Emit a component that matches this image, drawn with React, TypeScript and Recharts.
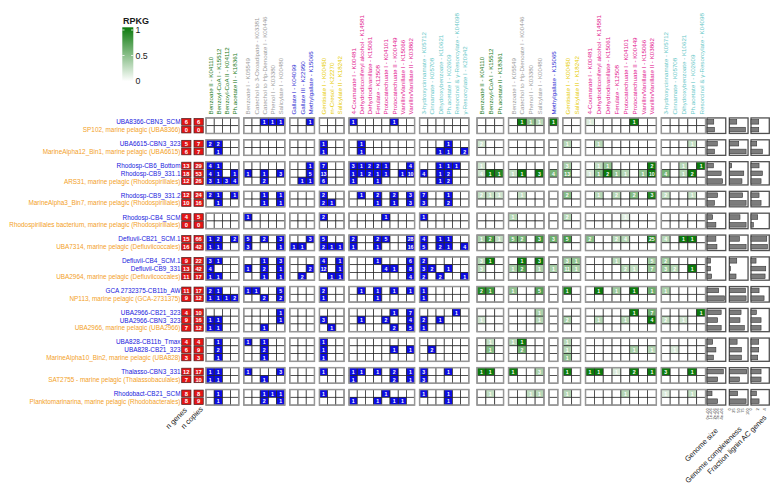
import type { JSX } from 'react';
import { Legend, Scatter, ScatterChart, XAxis, YAxis } from 'recharts';

// ---------- data ----------
// each group: MAG(s) first, reference genome last
const GENOME_GROUPS: string[][] = [
  ['UBA8366-CBN3_SCM', 'SP102, marine pelagic (UBA8366)'],
  ['UBA6615-CBN3_323', 'MarineAlpha12_Bin1, marine pelagic (UBA6615)'],
  ['Rhodosp-CB6_Bottom', 'Rhodosp-CB9_331.1', 'ARS31, marine pelagic (Rhodospirillales)'],
  ['Rhodosp-CB9_331.2', 'MarineAlpha3_Bin7, marine pelagic (Rhodospirillales)'],
  ['Rhodosp-CB4_SCM', 'Rhodospirillales bacterium, marine pelagic (Rhodospirillales)'],
  ['Defluvii-CB21_SCM.1', 'UBA7314, marine pelagic (Defluviicoccales)'],
  ['Defluvii-CB4_SCM.1', 'Defluvii-CB9_331', 'UBA2964, marine pelagic (Defluviicoccales)'],
  ['GCA 2732375-CB11b_AW', 'NP113, marine pelagic (GCA-2731375)'],
  ['UBA2966-CB21_323', 'UBA2966-CBN3_323', 'UBA2966, marine pelagic (UBA2966)'],
  ['UBA828-CB11b_Tmax', 'UBA828-CB21_323', 'MarineAlpha10_Bin2, marine pelagic (UBA828)'],
  ['Thalasso-CBN3_331', 'SAT2755 - marine pelagic (Thalassobaculales)'],
  ['Rhodobact-CB21_SCM', 'Planktomarinarina, marine pelagic (Rhodobacterales)'],
];

const N_GENES = [6, 0, 5, 6, 13, 18, 12, 12, 10, 4, 0, 15, 16, 9, 13, 11, 11, 9, 4, 9, 7, 4, 6, 3, 12, 7, 8, 8];
const N_COPIES = [6, 0, 7, 7, 29, 53, 26, 24, 16, 5, 0, 66, 42, 22, 42, 17, 17, 12, 10, 16, 12, 4, 9, 3, 17, 10, 8, 9];

const COUNT_BLOCK_LABELS: string[][] = [
  ['Benzoate II - K04110', 'Benzoyl-CoA I - K15512', 'Benzoyl-CoA II - K04112', 'Ph.acetate II - K18361'],
  ['Benzoate I - K05549', 'Catechol to 3-Oxoadipate - K03381', 'Catechol to Hp-Dienoate I - K00446', 'Phenol I - K03380', 'Salicylate I - K00480'],
  ['Gallate I - K04099', 'Gallate III - K22950', 'Methylgallate - K15065'],
  ['Gentisate I - K00450', 'm-Cresol - K22270', 'Salicylate II - K18242'],
  ['4-Coumarate I - K00481', 'Dehydrodiconiferyl alcohol - K14581', 'Dehydrodivanillate - K15061', 'Ferulate - K12508',
    'Protocatechuate I - K04101', 'Protocatechuate II - K00449', 'Vanillin/Vanillate I - K15066', 'Vanillin/Vanillate II - K03862'],
  ['3-hydroxycinnamate - K05712', 'Cinnamate - K05708', 'Dihydroxybenzoate - K10621', 'Ph.acetate I - K02609',
    'Resorcinol & γ-Resorcylate - K04098', 'γ-Resorcylate I - K20942'],
];

const RPKG_BLOCK_LABELS: string[][] = [
  ['Benzoate II - K04110', 'Benzoyl-CoA I - K15512', 'Ph.acetate II - K18361'],
  ['Benzoate I - K05549', 'Catechol to Hp-Dienoate I - K00446', 'Phenol I - K03380', 'Salicylate I - K00480'],
  ['Methylgallate - K15065'],
  ['Gentisate I - K00450', 'Salicylate II - K18242'],
  ['4-Coumarate I - K00481', 'Dehydrodiconiferyl alcohol - K14581', 'Dehydrodivanillate - K15061', 'Ferulate - K12508',
    'Protocatechuate I - K04101', 'Protocatechuate II - K00449', 'Vanillin/Vanillate I - K15066', 'Vanillin/Vanillate II - K03862'],
  ['3-hydroxycinnamate - K05712', 'Cinnamate - K05708', 'Dihydroxybenzoate - K10621', 'Ph.acetate I - K02609',
    'Resorcinol & γ-Resorcylate - K04098'],
];

// gene copies per genome; columns follow COUNT_BLOCK_LABELS (4 | 5 | 3 | 3 | 8 | 6)
const GENE_COUNTS: number[][] = [
  [0, 0, 0, 0, 0, 0, 1, 1, 1, 0, 0, 1, 0, 0, 0, 1, 0, 0, 0, 0, 1, 0, 0, 0, 0, 0, 0, 0, 0],
  [0, 0, 0, 0, 0, 0, 0, 0, 0, 0, 0, 0, 0, 0, 0, 0, 0, 0, 0, 0, 0, 0, 0, 0, 0, 0, 0, 0, 0],
  [2, 2, 0, 0, 0, 0, 0, 0, 0, 0, 0, 0, 1, 0, 0, 0, 1, 0, 0, 0, 0, 0, 0, 0, 0, 0, 1, 0, 0],
  [0, 1, 0, 0, 0, 0, 0, 0, 0, 0, 0, 0, 1, 0, 0, 0, 1, 0, 0, 0, 0, 0, 0, 0, 0, 1, 1, 0, 2],
  [4, 1, 0, 0, 0, 0, 0, 0, 0, 0, 0, 1, 7, 0, 0, 3, 1, 2, 2, 1, 0, 0, 4, 0, 0, 1, 1, 1, 0],
  [4, 1, 0, 1, 1, 0, 1, 0, 3, 0, 0, 5, 13, 0, 0, 1, 1, 2, 1, 1, 0, 1, 10, 4, 0, 1, 2, 0, 0],
  [3, 1, 3, 4, 0, 0, 2, 0, 0, 0, 1, 1, 6, 0, 0, 1, 0, 0, 1, 0, 0, 0, 0, 0, 0, 1, 2, 0, 0],
  [2, 1, 0, 1, 0, 0, 1, 0, 1, 0, 0, 0, 2, 0, 0, 0, 1, 0, 2, 0, 2, 0, 3, 7, 0, 0, 1, 0, 0],
  [0, 1, 0, 0, 0, 0, 1, 0, 1, 0, 0, 0, 2, 1, 0, 0, 0, 0, 1, 0, 1, 0, 3, 3, 0, 0, 2, 0, 0],
  [0, 0, 0, 0, 1, 0, 0, 0, 0, 0, 0, 0, 2, 0, 0, 0, 0, 0, 0, 1, 0, 0, 0, 1, 0, 0, 0, 0, 0],
  [0, 0, 0, 0, 0, 0, 0, 0, 0, 0, 0, 0, 0, 0, 0, 0, 0, 0, 0, 0, 0, 0, 0, 0, 0, 0, 0, 0, 0],
  [1, 2, 0, 2, 5, 0, 2, 0, 3, 0, 0, 3, 5, 0, 0, 2, 0, 0, 2, 5, 0, 0, 28, 4, 0, 1, 1, 0, 0],
  [1, 1, 0, 0, 3, 0, 0, 0, 1, 1, 1, 0, 2, 1, 1, 1, 0, 0, 1, 0, 0, 0, 16, 5, 0, 2, 1, 0, 4],
  [3, 1, 0, 0, 0, 0, 1, 0, 3, 0, 0, 0, 4, 0, 1, 0, 0, 0, 1, 0, 0, 0, 6, 2, 0, 0, 0, 0, 0],
  [4, 0, 0, 0, 1, 0, 2, 0, 1, 0, 0, 2, 12, 0, 1, 0, 0, 0, 0, 4, 1, 0, 8, 3, 2, 0, 1, 0, 0],
  [1, 1, 0, 0, 0, 0, 1, 0, 1, 0, 2, 0, 0, 1, 1, 0, 0, 0, 0, 0, 0, 0, 4, 2, 0, 2, 0, 0, 1],
  [2, 1, 0, 0, 1, 1, 0, 0, 5, 0, 0, 0, 2, 0, 0, 0, 1, 0, 1, 0, 1, 0, 1, 1, 0, 0, 0, 0, 0],
  [1, 1, 1, 2, 0, 0, 2, 0, 2, 0, 0, 0, 1, 0, 0, 0, 0, 0, 1, 0, 0, 0, 0, 1, 0, 0, 0, 0, 0],
  [0, 0, 0, 0, 0, 0, 0, 0, 1, 0, 0, 0, 0, 0, 0, 0, 0, 0, 0, 0, 1, 0, 7, 0, 0, 0, 0, 1, 0],
  [1, 1, 0, 0, 0, 0, 0, 0, 1, 0, 0, 0, 3, 0, 0, 0, 1, 0, 0, 2, 0, 0, 4, 2, 0, 1, 0, 0, 0],
  [1, 1, 0, 0, 0, 0, 1, 0, 0, 0, 0, 0, 0, 1, 0, 0, 0, 0, 0, 0, 2, 0, 5, 1, 0, 0, 0, 0, 0],
  [0, 1, 0, 0, 1, 0, 1, 0, 0, 0, 0, 0, 1, 0, 0, 0, 0, 0, 0, 0, 0, 0, 0, 0, 0, 0, 0, 0, 0],
  [0, 2, 0, 0, 0, 0, 2, 0, 0, 0, 0, 0, 1, 0, 0, 0, 0, 0, 0, 0, 1, 0, 1, 0, 2, 0, 0, 0, 0],
  [0, 1, 0, 0, 0, 0, 1, 0, 0, 0, 0, 0, 1, 0, 0, 0, 0, 0, 0, 0, 0, 0, 0, 0, 0, 0, 0, 0, 0],
  [1, 1, 0, 0, 1, 0, 0, 0, 3, 0, 0, 0, 1, 0, 0, 1, 1, 0, 1, 0, 2, 0, 1, 3, 0, 0, 1, 0, 0],
  [1, 1, 0, 0, 0, 0, 1, 0, 0, 0, 0, 0, 0, 0, 0, 1, 0, 0, 0, 0, 2, 0, 1, 3, 0, 0, 0, 0, 0],
  [0, 1, 0, 0, 0, 0, 1, 1, 1, 0, 0, 0, 1, 0, 0, 0, 0, 0, 0, 1, 0, 0, 0, 1, 0, 0, 1, 0, 0],
  [0, 1, 0, 0, 0, 0, 2, 0, 1, 0, 0, 0, 0, 0, 0, 1, 0, 0, 1, 0, 1, 1, 0, 0, 0, 0, 1, 0, 0],
];

// [row, column in RPKG_BLOCK_LABELS order, copies, RPKG]
const RPKG_CELLS: [number, number, number, number][] = [
  [0, 4, 1, 1.0], [0, 5, 1, 0.45], [0, 6, 1, 0.3], [0, 7, 1, 1.0], [0, 10, 1, 0.15], [0, 15, 1, 1.0],
  [2, 0, 2, 0.2], [2, 8, 1, 0.3], [2, 11, 1, 0.3], [2, 21, 1, 0.25],
  [4, 0, 1, 0.2], [4, 8, 3, 0.35], [4, 11, 1, 0.25], [4, 12, 1, 0.45], [4, 17, 2, 1.0], [4, 20, 1, 0.3], [4, 22, 1, 1.0],
  [5, 0, 4, 0.2], [5, 1, 1, 1.0], [5, 2, 1, 0.9], [5, 3, 1, 0.25], [5, 4, 1, 1.0], [5, 6, 3, 1.0], [5, 7, 4, 0.55],
  [5, 8, 13, 0.6], [5, 10, 1, 0.15], [5, 11, 1, 0.5], [5, 12, 2, 1.0], [5, 13, 1, 0.45], [5, 14, 1, 0.3], [5, 16, 1, 0.45],
  [5, 17, 10, 1.0], [5, 18, 4, 0.55], [5, 20, 1, 0.3], [5, 21, 2, 1.0],
  [7, 0, 2, 0.25], [7, 1, 1, 0.25], [7, 2, 1, 0.2], [7, 4, 1, 0.25], [7, 8, 2, 0.5], [7, 11, 1, 0.3], [7, 13, 2, 0.3],
  [7, 15, 2, 0.5], [7, 17, 3, 0.9], [7, 18, 2, 0.25], [7, 21, 1, 0.25],
  [9, 3, 1, 0.3], [9, 8, 2, 0.3], [9, 14, 1, 0.12],
  [11, 0, 1, 0.35], [11, 1, 2, 0.75], [11, 2, 1, 0.25], [11, 3, 5, 0.55], [11, 4, 2, 0.55], [11, 6, 3, 0.8], [11, 7, 3, 0.6],
  [11, 8, 5, 0.75], [11, 10, 2, 0.5], [11, 13, 2, 0.3], [11, 14, 4, 0.3], [11, 17, 25, 0.9], [11, 18, 4, 0.3],
  [11, 20, 1, 1.0], [11, 21, 1, 1.0],
  [13, 0, 3, 0.3], [13, 1, 1, 1.0], [13, 4, 1, 1.0], [13, 6, 3, 1.0], [13, 8, 3, 0.4], [13, 9, 1, 0.45], [13, 13, 1, 0.3],
  [13, 17, 5, 0.4], [13, 18, 2, 0.4],
  [14, 0, 3, 0.3], [14, 3, 1, 0.35], [14, 4, 2, 0.7], [14, 6, 1, 0.35], [14, 7, 1, 0.35], [14, 8, 11, 0.45], [14, 9, 1, 0.35],
  [14, 14, 2, 0.3], [14, 15, 1, 0.25], [14, 17, 7, 0.45], [14, 18, 3, 0.4], [14, 19, 2, 0.3], [14, 21, 1, 1.0],
  [16, 0, 2, 0.9], [16, 1, 1, 0.8], [16, 3, 1, 0.45], [16, 6, 5, 0.7], [16, 8, 1, 0.95], [16, 11, 1, 1.0], [16, 13, 1, 0.4],
  [16, 15, 1, 1.0], [16, 17, 1, 0.6], [16, 18, 1, 0.35],
  [18, 6, 1, 0.35], [18, 15, 1, 1.0], [18, 17, 7, 0.6], [18, 22, 1, 1.0],
  [19, 0, 1, 0.2], [19, 6, 1, 0.3], [19, 8, 2, 0.35], [19, 11, 1, 0.3], [19, 14, 1, 0.3], [19, 17, 4, 1.0], [19, 18, 2, 0.25],
  [19, 20, 1, 0.2],
  [21, 1, 1, 0.25], [21, 3, 1, 0.3], [21, 4, 1, 1.0], [21, 8, 1, 0.3],
  [22, 1, 1, 0.5], [22, 4, 2, 0.55], [22, 8, 1, 0.3], [22, 15, 1, 0.35], [22, 17, 1, 0.3], [22, 19, 1, 0.15],
  [23, 8, 1, 0.45],
  [24, 0, 1, 1.0], [24, 1, 1, 1.0], [24, 3, 1, 1.0], [24, 6, 3, 0.35], [24, 8, 1, 1.0], [24, 10, 1, 1.0], [24, 11, 1, 1.0],
  [24, 13, 1, 0.15], [24, 15, 2, 1.0], [24, 17, 1, 1.0], [24, 18, 3, 1.0], [24, 21, 1, 1.0],
  [26, 1, 1, 0.25], [26, 5, 1, 0.25], [26, 6, 1, 0.3], [26, 8, 1, 0.3], [26, 14, 1, 0.3], [26, 18, 1, 0.15], [26, 21, 1, 0.25],
];

const GENOME_SIZE_MB = [1.9, 2.1, 2.9, 2.1, 1.8, 4.0, 4.4, 3.0, 2.1, 1.6, 2.5, 2.5, 2.8, 1.0, 1.0, 1.3, 3.3, 4.9, 4.0, 3.0, 4.0, 1.6, 2.5, 1.8, 4.6, 3.0, 1.4, 3.0];
const COMPLETENESS = [41, 89, 52, 93, 13, 80, 70, 74, 93, 59, 93, 56, 93, 41, 6, 37, 89, 93, 65, 59, 83, 43, 67, 67, 96, 56, 46, 93];
const FRACTION_AC = [2.3, 2.3, 1.7, 3.4, 2.4, 3.4, 3.0, 2.4, 3.0, 2.0, 0.7, 4.7, 4.9, 1.5, 4.4, 4.2, 2.4, 3.9, 1.6, 3.0, 3.0, 2.3, 2.3, 2.0, 3.0, 3.0, 1.6, 2.4];

const SIZE_TICKS = [0, 1, 2, 3, 4];
const COMPLETENESS_TICKS = [0, 25, 50, 75, 100];
const FRACTION_TICKS = [0, 2, 4];

// ---------- styles / layout ----------
const FONT = '"Liberation Sans", Arial, Helvetica, sans-serif';
const CLASS_COLORS = ['#217a21', '#9c9c9c', '#2e2ed2', '#e6cb00', '#e2168e', '#68c8c8'];
const MAG_COLOR = '#2020dc';
const REF_COLOR = '#f3a11f';
const BLUE = '#0c0ce2';
const RED = '#e41616';
const GREEN_HIGH = [12, 122, 12];

const CHART_W = 770;
const CHART_H = 480;
const Y_AXIS_W = 173;
const MARGIN_R = 6;
const TOP_AXIS_H = 108;
const BOTTOM_AXIS_H = 81;

const X_MAX = 72.07;
const GROUP_GAP = 0.82;
const Y_PAD = 0.75;
const BLOCK_GAP = 0.61;
const N_GENES_X = 0.65;
const N_COPIES_X = 2.15;
const RED_W = 1.13;

type Column = { x: number; label: string; color: string; w: number };
type Span = { x0: number; x1: number };

function layoutSection(blocks: string[][], start: number, cell: number): { columns: Column[]; spans: Span[] } {
  const columns: Column[] = [];
  const spans: Span[] = [];
  let x = start;
  blocks.forEach((labels, b) => {
    const x0 = x;
    labels.forEach((label, i) => {
      columns.push({ x: x + cell * (i + 0.5), label, color: CLASS_COLORS[b], w: cell });
    });
    x += labels.length * cell;
    spans.push({ x0, x1: x });
    x += BLOCK_GAP;
  });
  return { columns, spans };
}

const SECTION1 = layoutSection(COUNT_BLOCK_LABELS, 3.05, 1);
const SECTION2 = layoutSection(RPKG_BLOCK_LABELS, 36.1, 1.079);

type Row = { name: string; isRef: boolean; y: number; group: number };
const ROWS: Row[] = [];
GENOME_GROUPS.forEach((names, g) => {
  names.forEach((name, k) => {
    ROWS.push({ name, isRef: k === names.length - 1, y: ROWS.length + g * GROUP_GAP, group: g });
  });
});
const Y_MIN = -Y_PAD;
const Y_MAX = ROWS[ROWS.length - 1].y + Y_PAD;

const PX_X = (CHART_W - Y_AXIS_W - MARGIN_R) / X_MAX;
const PX_Y = (CHART_H - TOP_AXIS_H - BOTTOM_AXIS_H) / (Y_MAX - Y_MIN);

const GROUP_SPANS = GENOME_GROUPS.map((_, g) => {
  const ys = ROWS.filter((r) => r.group === g).map((r) => r.y);
  return { y0: Math.min(...ys) - 0.5, y1: Math.max(...ys) + 0.5 };
});

type Panel = { start: number; width: number; max: number; values: number[]; ticks: number[]; fmt: (v: number) => string };
const PANELS: Panel[] = [
  { start: 64.15, width: 2.28, max: 5.3, values: GENOME_SIZE_MB, ticks: SIZE_TICKS, fmt: (v) => (v === 0 ? '0e+00' : `${v}e+06`) },
  { start: 66.87, width: 2.28, max: 103.9, values: COMPLETENESS, ticks: COMPLETENESS_TICKS, fmt: (v) => String(v) },
  { start: 69.51, width: 2.23, max: 5.46, values: FRACTION_AC, ticks: FRACTION_TICKS, fmt: (v) => String(v) },
];

function greenShade(t: number): string {
  const c = GREEN_HIGH.map((h) => Math.round(255 + (h - 255) * Math.min(1, Math.max(0, t))));
  return `rgb(${c[0]},${c[1]},${c[2]})`;
}

// ---------- series data ----------
const countCells = ROWS.flatMap((row, r) =>
  SECTION1.columns.map((col, c) => {
    const v = GENE_COUNTS[r][c];
    return { x: col.x, y: row.y, w: col.w, fill: v > 0 ? BLUE : '#ffffff', label: v > 0 ? String(v) : '' };
  }),
);

const rpkgLookup = new Map(RPKG_CELLS.map(([r, c, n, v]) => [`${r}-${c}`, { n, v }]));
const rpkgCells = ROWS.flatMap((row, r) =>
  SECTION2.columns.map((col, c) => {
    const hit = rpkgLookup.get(`${r}-${c}`);
    return { x: col.x, y: row.y, w: col.w, fill: hit ? greenShade(hit.v) : '#ffffff', label: hit ? String(hit.n) : '' };
  }),
);

const redCells = ROWS.flatMap((row, r) => [
  { x: N_GENES_X, y: row.y, label: String(N_GENES[r]) },
  { x: N_COPIES_X, y: row.y, label: String(N_COPIES[r]) },
]);

const blockFrames = GROUP_SPANS.flatMap((g) =>
  [...SECTION1.spans, ...SECTION2.spans].map((s) => ({
    x: (s.x0 + s.x1) / 2, y: (g.y0 + g.y1) / 2, w: s.x1 - s.x0, h: g.y1 - g.y0,
  })),
);

const panelFrames = GROUP_SPANS.flatMap((g) =>
  PANELS.map((p) => ({ x: p.start + p.width / 2, y: (g.y0 + g.y1) / 2, w: p.width, h: g.y1 - g.y0 })),
);

const bars = PANELS.flatMap((p) =>
  ROWS.map((row, r) => {
    const len = (p.values[r] / p.max) * p.width;
    return { x: p.start + len, y: row.y, len };
  }),
);

// ---------- axis labels ----------
const keyOf = (v: number) => v.toFixed(3);
const HEADER_COLUMNS = [...SECTION1.columns, ...SECTION2.columns];
const HEADER_BY_X = new Map(HEADER_COLUMNS.map((c) => [keyOf(c.x), c]));
const ROW_BY_Y = new Map(ROWS.map((r) => [keyOf(r.y), r]));

type BottomLabel = { x: number; text: string; kind: 'tiny' | 'title'; dy: number };
const BOTTOM_LABELS: BottomLabel[] = [
  { x: 0.79, text: 'n genes', kind: 'title', dy: 3.7 },
  { x: 2.74, text: 'n copies', kind: 'title', dy: 2.7 },
  ...PANELS.flatMap((p) =>
    p.ticks.map((t) => ({ x: p.start + (t / p.max) * p.width, text: p.fmt(t), kind: 'tiny' as const, dy: 1.2 })),
  ),
  { x: 65.55, text: 'Genome size', kind: 'title', dy: 24.2 },
  { x: 68.42, text: 'Genome completeness', kind: 'title', dy: 22.7 },
  { x: 71.46, text: 'Fraction lignin AC genes', kind: 'title', dy: 11.2 },
];
const BOTTOM_BY_X = new Map(BOTTOM_LABELS.map((b) => [keyOf(b.x), b]));

function HeaderTick(props: any): JSX.Element | null {
  const { x, y, payload } = props;
  const col = HEADER_BY_X.get(keyOf(payload.value));
  if (!col) return null;
  const ty = y - 1.5;
  return (
    <text x={x} y={ty} transform={`rotate(-90 ${x} ${ty})`} textAnchor="start" dominantBaseline="central"
      fontSize={6.2} fill={col.color} fontFamily={FONT}>
      {col.label}
    </text>
  );
}

function RowTick(props: any): JSX.Element | null {
  const { x, y, payload } = props;
  const row = ROW_BY_Y.get(keyOf(payload.value));
  if (!row) return null;
  return (
    <text x={x - 0.5} y={y} textAnchor="end" dominantBaseline="central" fontSize={6.4}
      fill={row.isRef ? REF_COLOR : MAG_COLOR} fontFamily={FONT}>
      {row.name}
    </text>
  );
}

function BottomTick(props: any): JSX.Element | null {
  const { x, y, payload } = props;
  const item = BOTTOM_BY_X.get(keyOf(payload.value));
  if (!item) return null;
  const ty = y + item.dy;
  if (item.kind === 'tiny') {
    return (
      <text x={x} y={ty} transform={`rotate(-90 ${x} ${ty})`} textAnchor="end" dominantBaseline="central"
        fontSize={4} fill="#333" fontFamily={FONT}>
        {item.text}
      </text>
    );
  }
  return (
    <text x={x} y={ty} transform={`rotate(-45 ${x} ${ty})`} textAnchor="end" fontSize={7.4} fill="#1a1a1a" fontFamily={FONT}>
      {item.text}
    </text>
  );
}

// ---------- shapes ----------
function HeatCell(props: any): JSX.Element {
  const { cx, cy, payload } = props;
  const w = payload.w * PX_X;
  const h = PX_Y;
  return (
    <g>
      <rect x={cx - w / 2} y={cy - h / 2} width={w} height={h} fill={payload.fill} stroke="#262626" strokeWidth={0.7} />
      {payload.label ? (
        <text x={cx} y={cy + 0.2} textAnchor="middle" dominantBaseline="central" fontSize={5.2} fontWeight="bold"
          fill="#ffffff" fontFamily={FONT}>
          {payload.label}
        </text>
      ) : null}
    </g>
  );
}

function RedCell(props: any): JSX.Element {
  const { cx, cy, payload } = props;
  const w = RED_W * PX_X;
  const h = PX_Y - 1;
  return (
    <g>
      <rect x={cx - w / 2} y={cy - h / 2} width={w} height={h} fill={RED} stroke="#4a2020" strokeWidth={0.7} />
      <text x={cx} y={cy + 0.2} textAnchor="middle" dominantBaseline="central" fontSize={5.8} fontWeight="bold"
        fill="#ffffff" fontFamily={FONT}>
        {payload.label}
      </text>
    </g>
  );
}

function BlockFrame(props: any): JSX.Element {
  const { cx, cy, payload } = props;
  const w = payload.w * PX_X;
  const h = payload.h * PX_Y;
  return <rect x={cx - w / 2} y={cy - h / 2} width={w} height={h} fill="none" stroke="#979797" strokeWidth={1.5} />;
}

function PanelFrame(props: any): JSX.Element {
  const { cx, cy, payload } = props;
  const w = payload.w * PX_X;
  const h = payload.h * PX_Y;
  return <rect x={cx - w / 2} y={cy - h / 2} width={w} height={h} fill="#ffffff" stroke="#505050" strokeWidth={1.3} />;
}

function BarShape(props: any): JSX.Element {
  const { cx, cy, payload } = props;
  const w = payload.len * PX_X;
  const h = 4.6;
  return <rect x={cx - w} y={cy - h / 2} width={w} height={h} fill="#7c7c7c" stroke="#363636" strokeWidth={0.6} />;
}

function RpkgLegend(): JSX.Element {
  const tickY = (v: number) => 65 - v * 51;
  return (
    <svg width={62} height={86} style={{ overflow: 'visible' }}>
      <defs>
        <linearGradient id="rpkgGradient" x1="0" y1="0" x2="0" y2="1">
          <stop offset="0" stopColor={greenShade(1)} />
          <stop offset="1" stopColor="#ffffff" />
        </linearGradient>
      </defs>
      <text x={9} y={7.5} fontSize={9} fontWeight="bold" fill="#1a1a1a" fontFamily={FONT}>RPKG</text>
      <rect x={8.3} y={11.3} width={11} height={54} fill="url(#rpkgGradient)" />
      {[1, 0.5, 0].map((v) => (
        <g key={v}>
          <line x1={8.3} x2={10.5} y1={tickY(v)} y2={tickY(v)} stroke="#ffffff" strokeWidth={0.8} />
          <line x1={17.1} x2={19.3} y1={tickY(v)} y2={tickY(v)} stroke="#ffffff" strokeWidth={0.8} />
          <text x={21.5} y={tickY(v)} dominantBaseline="central" fontSize={8.8} fill="#1a1a1a" fontFamily={FONT}>{v}</text>
        </g>
      ))}
    </svg>
  );
}

export default function App(): JSX.Element {
  return (
    <div style={{ width: CHART_W, height: CHART_H, position: 'relative', fontFamily: FONT }}>
      <ScatterChart width={CHART_W} height={CHART_H} margin={{ top: 0, right: MARGIN_R, bottom: 0, left: 0 }}>
        <XAxis xAxisId="top" orientation="top" type="number" dataKey="x" domain={[0, X_MAX]}
          ticks={HEADER_COLUMNS.map((c) => c.x)} tick={<HeaderTick />} interval={0} height={TOP_AXIS_H}
          axisLine={false} tickLine={false} tickSize={0} tickMargin={0} />
        <XAxis xAxisId="bottom" orientation="bottom" type="number" dataKey="x" domain={[0, X_MAX]}
          ticks={BOTTOM_LABELS.map((b) => b.x)} tick={<BottomTick />} interval={0} height={BOTTOM_AXIS_H}
          axisLine={false} tickLine={false} tickSize={0} tickMargin={0} />
        <YAxis type="number" dataKey="y" domain={[Y_MIN, Y_MAX]} reversed ticks={ROWS.map((r) => r.y)}
          tick={<RowTick />} interval={0} width={Y_AXIS_W} axisLine={false} tickLine={false} tickSize={0} tickMargin={0} />
        <Legend verticalAlign="middle" align="center" layout="horizontal" content={<RpkgLegend />}
          wrapperStyle={{ position: 'absolute', left: 106, top: 8, width: 62, height: 86 }} />
        <Scatter xAxisId="top" data={countCells} shape={(p: any) => <HeatCell {...p} />} isAnimationActive={false} />
        <Scatter xAxisId="top" data={rpkgCells} shape={(p: any) => <HeatCell {...p} />} isAnimationActive={false} />
        <Scatter xAxisId="top" data={blockFrames} shape={(p: any) => <BlockFrame {...p} />} isAnimationActive={false} />
        <Scatter xAxisId="bottom" data={redCells} shape={(p: any) => <RedCell {...p} />} isAnimationActive={false} />
        <Scatter xAxisId="bottom" data={panelFrames} shape={(p: any) => <PanelFrame {...p} />} isAnimationActive={false} />
        <Scatter xAxisId="bottom" data={bars} shape={(p: any) => <BarShape {...p} />} isAnimationActive={false} />
      </ScatterChart>
    </div>
  );
}
